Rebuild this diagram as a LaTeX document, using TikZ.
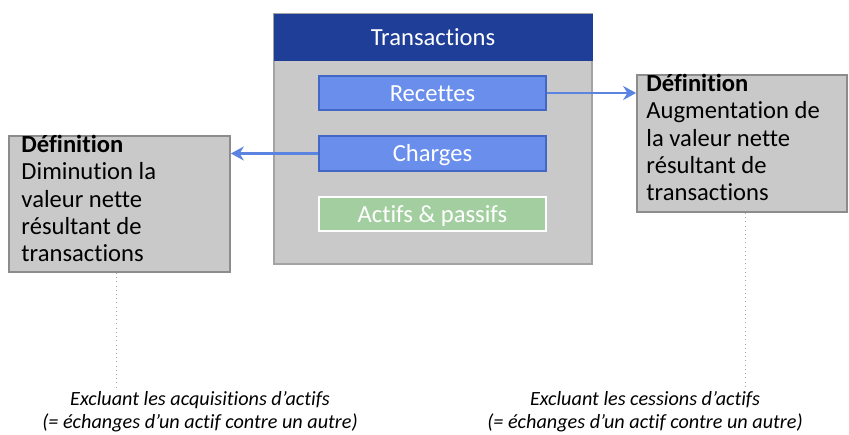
\documentclass[tikz,border=0pt]{standalone}
\usepackage{fontspec}
\setmainfont{Carlito}[Ligatures=NoCommon]
\usetikzlibrary{arrows.meta, positioning}
\definecolor{headblue}{HTML}{1F3E97}
\definecolor{panelgray}{HTML}{C9C9C9}
\definecolor{paneledge}{HTML}{A3A3A3}
\definecolor{itemblue}{HTML}{6A8EEB}
\definecolor{itemedge}{HTML}{4267C4}
\definecolor{itemgreen}{HTML}{A3CFA0}
\definecolor{linkblue}{HTML}{5B84E0}
\definecolor{defedge}{HTML}{8C8C8C}
\definecolor{dotgray}{HTML}{A6A6A6}

\begin{document}
\begin{tikzpicture}[x=0.02cm, y=-0.02cm,
    panel/.style={draw=paneledge, fill=panelgray, line width=1pt, inner sep=0pt},
    item/.style={draw=itemedge, fill=itemblue, text=white, line width=1pt,
      minimum width=4.54cm, minimum height=0.69cm, inner sep=0pt,
      text height=1.0em, text depth=0.08em,
      font=\fontsize{14}{16}\selectfont},
    defbox/.style={draw=defedge, fill=panelgray, line width=1pt, inner sep=0pt},
    deftext/.style={align=left, inner sep=0pt, anchor=north west,
      font=\fontsize{14}{15.5}\selectfont},
    link/.style={draw=linkblue, line width=1.2pt, -{Stealth[length=2.6mm, width=2.8mm]}},
    note/.style={align=center, inner sep=0pt, font=\fontsize{11.5}{13}\selectfont\itshape}]
  \useasboundingbox (0,0) rectangle (849,435);

  % Transactions panel
  \node[panel, minimum width=6.36cm, minimum height=5cm] (trans) at (433,139) {};
  \node[fill=headblue, draw=headblue, minimum width=6.36cm, minimum height=0.92cm,
    inner sep=0pt, text=white, font=\fontsize{14}{16}\selectfont] (head) at (433,37) {Transactions};

  % Items
  \node[item] (rec) at (432.5,93) {Recettes};
  \node[item] (chg) at (432.5,153.5) {Charges};
  \node[item, draw=white, fill=itemgreen] (act) at (432.5,214) {Actifs \& passifs};

  % Definitions
  \node[defbox, minimum width=4.42cm, minimum height=2.72cm] (ldef) at (119.5,204) {};
  \node[deftext] (ltxt) at ([xshift=0.26cm]ldef.north west)
    {\textbf{Définition}\\Diminution la\\valeur nette\\résultant de\\transactions};
  \node[defbox, minimum width=4.2cm, minimum height=2.74cm] (rdef) at (742,143.5) {};
  \node[deftext] (rtxt) at ([xshift=0.2cm]rdef.north west)
    {\textbf{Définition}\\Augmentation de\\la valeur nette\\résultant de\\transactions};

  % Links
  \draw[link] (rec.east) -- (rec.east -| rdef.west);
  \draw[link] (chg.west) -- (chg.west -| ldef.east);

  % Notes
  \coordinate (lend) at (116,388);
  \coordinate (rend) at (745,388);
  \draw[dotgray, dotted, thin] (ldef.south -| lend) -- (lend);
  \draw[dotgray, dotted, thin] (rdef.south -| rend) -- (rend);
  \node[note] (lnote) at (200,412) {Excluant les acquisitions d’actifs\\(= échanges d’un actif contre un autre)};
  \node[note] (rnote) at (645,412) {Excluant les cessions d’actifs\\(= échanges d’un actif contre un autre)};
\end{tikzpicture}
\end{document}
